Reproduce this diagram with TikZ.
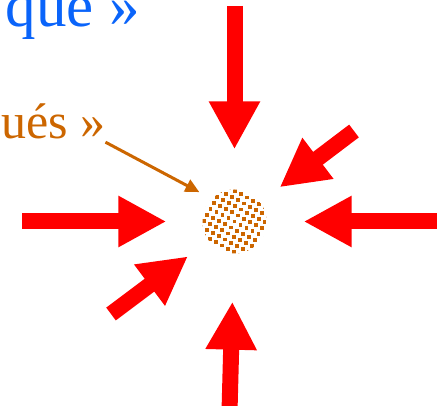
\documentclass[tikz,border=0pt]{standalone}
\usepackage{fontspec}
\setmainfont{Liberation Serif}
\usetikzlibrary{arrows.meta}

\definecolor{blu}{RGB}{10,100,250}
\definecolor{ochre}{RGB}{204,102,0}

\begin{document}
\begin{tikzpicture}[x=1pt, y=-1pt,
    push/.style={red, line width=16pt, -{Triangle[length=48pt, width=48pt]}},
    ptr/.style={ochre, line width=3pt, -{Triangle[length=14pt, width=13pt]}},
    txt/.style={inner sep=0pt, anchor=base east},
    grain/.style={circle, minimum size=64pt, inner sep=0pt,
      path picture={
        \begin{scope}[shift={(path picture bounding box.center)}]
          \foreach \i in {-7,...,7}
            \foreach \j in {-7,...,7}
              \fill[ochre] ({6.8*(\i*cos(28)-\j*sin(28))-1.9},{6.8*(\i*sin(28)+\j*cos(28))-1.9})
                rectangle ++(3.8,3.8);
        \end{scope}}}
  ]
  \useasboundingbox (0,0) rectangle (437,406);

  \node[grain] (disc) at (234.5,221.5) {};
  \node[txt, text=blu, font=\fontsize{61}{61}\selectfont] (top) at (140,27) {que »};
  \node[txt, text=ochre, font=\fontsize{50}{50}\selectfont] (lbl) at (105.5,138.5) {ués »};

  % tails of the pressure arrows
  \coordinate (n)  at (234.5,6);
  \coordinate (e)  at (442,221.5);
  \coordinate (s)  at (229.5,412);
  \coordinate (w)  at (22,221.5);
  \coordinate (ne) at (354,131);
  \coordinate (sw) at (111,314);

  \draw[push, shorten >=40pt] (n) -- (disc);
  \draw[push, shorten >=37pt] (e) -- (disc);
  \draw[push, shorten >=48pt] (s) -- (disc);
  \draw[push, shorten >=36pt] (w) -- (disc);
  \draw[push, shorten >=24.5pt] (ne) -- (disc);
  \draw[push, shorten >=26pt] (sw) -- (disc);

  \draw[ptr, shorten >=14pt] ([yshift=-3pt]lbl.south east) -- (disc.135);
\end{tikzpicture}
\end{document}
